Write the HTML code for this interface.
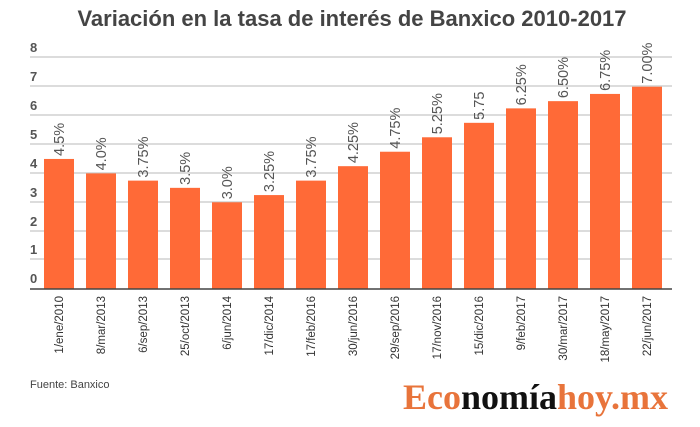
<!DOCTYPE html>
<html><head><meta charset="utf-8"><style>
body{margin:0;background:#fff;width:700px;height:422px;overflow:hidden}
</style></head><body>
<svg width="700" height="422" xmlns="http://www.w3.org/2000/svg" font-family="Liberation Sans, sans-serif">
<text x="352" y="26" text-anchor="middle" font-size="22" font-weight="bold" fill="#444">Variación en la tasa de interés de Banxico 2010-2017</text>
<g stroke="#c8c8c8" stroke-width="1.3">
<line x1="30" x2="672" y1="57" y2="57"/><line x1="30" x2="672" y1="86" y2="86"/><line x1="30" x2="672" y1="115" y2="115"/><line x1="30" x2="672" y1="144" y2="144"/><line x1="30" x2="672" y1="173" y2="173"/><line x1="30" x2="672" y1="202" y2="202"/><line x1="30" x2="672" y1="231" y2="231"/><line x1="30" x2="672" y1="259" y2="259"/>
</g>
<g font-size="13" font-weight="bold" fill="#555">
<text x="30" y="52">8</text><text x="30" y="81">7</text><text x="30" y="110">6</text><text x="30" y="139">5</text><text x="30" y="168">4</text><text x="30" y="197">3</text><text x="30" y="226">2</text><text x="30" y="254">1</text><text x="30" y="283">0</text>
</g>
<g id="bars" fill="#ff6a37"></g>
<line x1="30" x2="672" y1="289" y2="289" stroke="#444" stroke-width="1.5"/>
<g id="lbl"></g>
<text x="30" y="388" font-size="11" fill="#444">Fuente: Banxico</text>
<text x="403" y="409" font-family="Liberation Serif, serif" font-size="36" font-weight="bold" textLength="265" lengthAdjust="spacingAndGlyphs"><tspan fill="#e8743b">Eco</tspan><tspan fill="#111">nomía</tspan><tspan fill="#e8743b">hoy.mx</tspan></text>
</svg>
<script>
var d=[["1/ene/2010",4.5,"4.5%"],["8/mar/2013",4,"4.0%"],["6/sep/2013",3.75,"3.75%"],["25/oct/2013",3.5,"3.5%"],["6/jun/2014",3,"3.0%"],["17/dic/2014",3.25,"3.25%"],["17/feb/2016",3.75,"3.75%"],["30/jun/2016",4.25,"4.25%"],["29/sep/2016",4.75,"4.75%"],["17/nov/2016",5.25,"5.25%"],["15/dic/2016",5.75,"5.75"],["9/feb/2017",6.25,"6.25%"],["30/mar/2017",6.5,"6.50%"],["18/may/2017",6.75,"6.75%"],["22/jun/2017",7,"7.00%"]];
var ns="http://www.w3.org/2000/svg",b=document.getElementById("bars"),l=document.getElementById("lbl");
d.forEach(function(r,i){var x=44+i*42,h=r[1]*28.9,y=289-h;
var e=document.createElementNS(ns,"rect");e.setAttribute("x",x);e.setAttribute("y",y);e.setAttribute("width",30);e.setAttribute("height",h);b.appendChild(e);
var c=x+15;
var t=document.createElementNS(ns,"text");t.setAttribute("transform","translate("+(c+5)+","+(y-3)+") rotate(-90)");t.setAttribute("font-size","14.5");t.setAttribute("fill","#555");t.textContent=r[2];l.appendChild(t);
var u=document.createElementNS(ns,"text");u.setAttribute("transform","translate("+(c+4)+",296) rotate(-90)");u.setAttribute("font-size","11.5");u.setAttribute("fill","#333");u.setAttribute("text-anchor","end");u.textContent=r[0];l.appendChild(u);});
</script>
</body></html>
